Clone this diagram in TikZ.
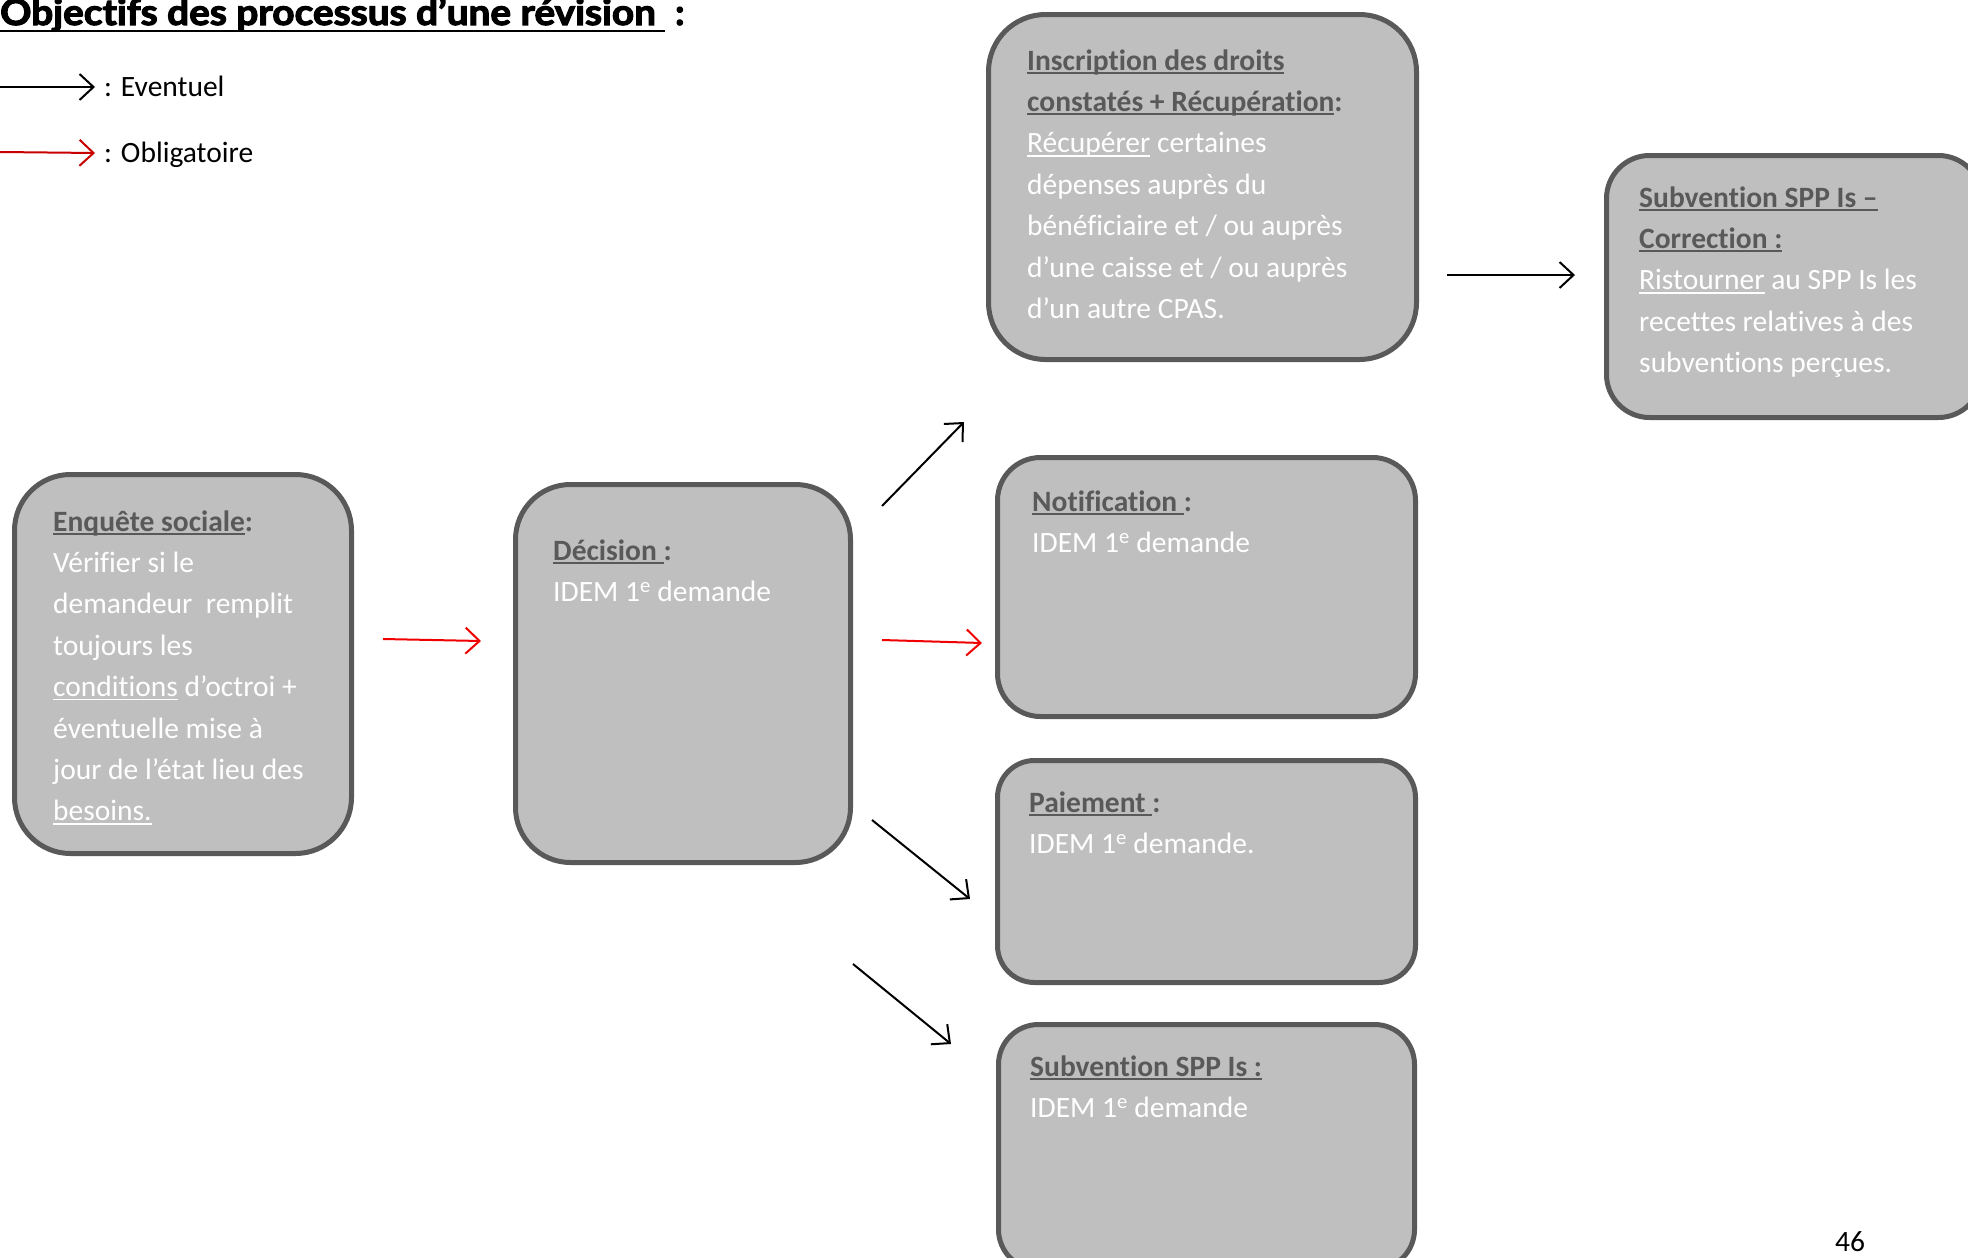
\documentclass[tikz,border=0pt]{standalone}
\usepackage{fontspec}
\usepackage{graphicx}
\setmainfont{Carlito}[Ligatures=NoCommon]
\newfontfamily\headfont{Lato}[Ligatures=NoCommon, BoldFeatures={FakeBold=3}]
\usetikzlibrary{arrows.meta}

\definecolor{boxfill}{RGB}{191,191,191}
\definecolor{boxline}{RGB}{89,89,89}
\definecolor{hdr}{RGB}{89,89,89}
\definecolor{legred}{RGB}{200,0,0}
\definecolor{conred}{RGB}{240,0,0}

% Word-style underline: fixed distance below the baseline
\newsavebox{\ulsave}
\newcommand{\ulx}[2][-0.13em]{\leavevmode\sbox{\ulsave}{#2}%
  \rlap{\rule[#1]{\wd\ulsave}{0.065em}}\usebox{\ulsave}}
\newcommand{\hd}[1]{\textbf{\color{hdr}#1}}
\newcommand{\prem}{1\textsuperscript{e}}

\begin{document}
\begin{tikzpicture}[x=1pt,y=-1pt,
  panel/.style={draw=boxline, fill=boxfill, line width=5pt, rounded corners=#1,
    inner sep=0pt, anchor=north west},
  txt/.style={anchor=base west, inner sep=0pt, text width=#1, align=flush left,
    text=white, font=\fontsize{29.5}{41.4}\selectfont},
  plain/.style={anchor=base west, inner sep=0pt, text=black,
    font=\fontsize{29.5}{41.4}\selectfont},
  arr/.style={line width=2pt, -{Straight Barb[length=14pt,width=26pt,line width=2pt]}},
  opt/.style={arr, black},
  must/.style={arr, conred}]

\useasboundingbox (0,0) rectangle (1968,1258);

% heading and legend
\node[anchor=base west, inner sep=0pt, font=\headfont\fontsize{36}{42}\selectfont\bfseries] (title)
  at (0,25) {\resizebox{665pt}{\height}{\ulx[-0.19em]{Objectifs des processus d’une révision\ }}\hspace{10pt}:};
\coordinate (legAs) at (0,87);
\coordinate (legAe) at (95,87);
\draw[opt] (legAs) -- (legAe);
\node[plain] (legA) at (104,96) {: Eventuel};
\coordinate (legBs) at (0,152);
\coordinate (legBe) at (95,153);
\draw[arr, legred] (legBs) -- (legBe);
\node[plain] (legB) at (104,162) {: Obligatoire};

% process boxes
\node[panel=56pt, minimum width=337pt, minimum height=379pt] (enq) at (12,472) {};
\node[panel=55pt, minimum width=335pt, minimum height=378pt] (dec) at (513,482) {};
\node[panel=57pt, minimum width=428pt, minimum height=345pt] (ins) at (986,12) {};
\node[panel=43pt, minimum width=375pt, minimum height=262pt] (corr) at (1604,153) {};
\node[panel=43pt, minimum width=418pt, minimum height=259pt] (noti) at (995,455) {};
\node[panel=37pt, minimum width=418pt, minimum height=222pt] (paie) at (995,758) {};
\node[panel=40pt, minimum width=416pt, minimum height=245pt] (subv) at (996,1022) {};

% box texts
\node[txt=300pt] (enqT) at (53,531) {%
  \hd{\ulx{Enquête sociale}:}\\
  Vérifier si le\\
  demandeur\ \ remplit\\
  toujours les\\
  \ulx{conditions} d’octroi +\\
  éventuelle mise à\\
  jour de l’état lieu des\\
  \ulx{besoins.}};
\node[txt=300pt] (decT) at (553,560) {%
  \hd{\ulx{Décision }:}\\
  IDEM \prem{} demande};
\node[txt=390pt] (insT) at (1027,70) {%
  \hd{\ulx{Inscription des droits}}\\
  \hd{\ulx{constatés + Récupération}:}\\
  \ulx{Récupérer} certaines\\
  dépenses auprès du\\
  bénéficiaire et / ou auprès\\
  d’une caisse et / ou auprès\\
  d’un autre CPAS.};
\node[txt=330pt] (corrT) at (1639,207) {%
  \hd{\ulx{Subvention SPP Is –}}\\
  \hd{\ulx{Correction :}}\\
  \ulx{Ristourner} au SPP Is les\\
  recettes relatives à des\\
  subventions perçues.};
\node[txt=370pt] (notiT) at (1032,511) {%
  \hd{\ulx{Notification }:}\\
  IDEM \prem{} demande};
\node[txt=370pt] (paieT) at (1029,812) {%
  \hd{\ulx{Paiement }:}\\
  IDEM \prem{} demande.};
\node[txt=370pt] (subvT) at (1030,1076) {%
  \hd{\ulx{Subvention SPP Is :}}\\
  IDEM \prem{} demande};

% connectors (free-standing arrows between the boxes)
\coordinate (a1s) at (383,639);  \coordinate (a1e) at (481,641);
\coordinate (a2s) at (882,640);  \coordinate (a2e) at (982,643);
\coordinate (a3s) at (882,506);  \coordinate (a3e) at (964,422);
\coordinate (a4s) at (872,820);  \coordinate (a4e) at (970,899);
\coordinate (a5s) at (853,964);  \coordinate (a5e) at (951,1044);
\coordinate (a6s) at (1447,275); \coordinate (a6e) at (1575,275);
\draw[must] (a1s) -- (a1e);
\draw[must] (a2s) -- (a2e);
\draw[opt] (a3s) -- (a3e);
\draw[opt] (a4s) -- (a4e);
\draw[opt] (a5s) -- (a5e);
\draw[opt] (a6s) -- (a6e);

% page number
\node[plain, anchor=base] (pageno) at (1850,1251) {46};
\end{tikzpicture}
\end{document}
